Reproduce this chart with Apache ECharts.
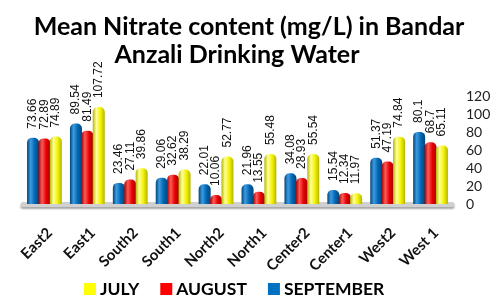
<!DOCTYPE html>
<html>
<head>
<meta charset="utf-8">
<script src="https://cdn.jsdelivr.net/npm/echarts@6/dist/echarts.min.js"></script>
<style>
  html, body { margin: 0; padding: 0; background: #fff; }
  #chart { width: 500px; height: 308px; }
</style>
</head>
<body>
<div id="chart"></div>
<script>
// Sampling sites (x axis)
const sites = ["East2", "East1", "South2", "South1", "North2", "North1", "Center2", "Center1", "West2", "West 1"];

// Mean nitrate (mg/L) per month
const september = [73.66, 89.54, 23.46, 29.06, 22.01, 21.96, 34.08, 15.54, 51.37, 80.1];
const august    = [72.89, 81.49, 27.11, 32.62, 10.06, 13.55, 28.93, 12.34, 47.19, 68.7];
const july      = [74.89, 107.72, 39.86, 38.29, 52.77, 55.48, 55.54, 11.97, 74.84, 65.11];

const yTicks = [0, 20, 40, 60, 80, 100, 120];

// cylinder look: dark edges, light stripe near the left
function cylinder(dark, mid, light) {
    return new echarts.graphic.LinearGradient(0, 0, 1, 0, [
        { offset: 0, color: dark },
        { offset: 0.3, color: light },
        { offset: 0.65, color: mid },
        { offset: 1, color: dark }
    ]);
}

const labelOpt = {
    show: true,
    position: 'top',
    distance: 9,
    rotate: 90,
    align: 'left',
    verticalAlign: 'middle',
    fontFamily: 'Liberation Sans',
    fontSize: 12,
    color: '#111'
};

function makeSeries(name, data, fill) {
    return {
        name: name,
        type: 'bar',
        data: data,
        barWidth: 12,
        barGap: '-5%',
        itemStyle: { color: fill, borderRadius: [5, 5, 0, 0] },
        label: labelOpt
    };
}

const titleStyle = { fontFamily: 'Lato', fontWeight: 'bold', fontSize: 25, color: '#000' };

var dom = document.getElementById('chart');
var myChart = echarts.init(dom, null, { renderer: 'canvas' });

var option = {
    animation: false,
    title: [
        { text: 'Mean Nitrate content (mg/L) in Bandar', left: 244, top: 9, textAlign: 'center', textStyle: titleStyle },
        { text: 'Anzali Drinking Water', left: 232, top: 37, textAlign: 'center', textStyle: titleStyle }
    ],
    legend: {
        data: [
            { name: 'JULY', itemStyle: { color: '#FFFF00' } },
            { name: 'AUGUST', itemStyle: { color: '#FF0000' } },
            { name: 'SEPTEMBER', itemStyle: { color: '#0070C0' } }
        ],
        bottom: 5,
        left: 79,
        itemWidth: 12,
        itemHeight: 12,
        itemGap: 21,
        icon: 'rect',
        textStyle: { fontFamily: 'Lato', fontWeight: 'bold', fontSize: 17.5, color: '#000', padding: [0, 0, 0, -1] }
    },
    grid: { left: 23, right: 48, top: 96, bottom: 104 },
    xAxis: {
        type: 'category',
        data: sites,
        axisTick: { show: false },
        axisLine: {
            lineStyle: { color: '#d0d0d0', width: 5, shadowColor: 'rgba(0,0,0,0.35)', shadowBlur: 2, shadowOffsetY: 2 }
        },
        axisLabel: {
            rotate: 45,
            margin: 21,
            interval: 0,
            align: 'right',
            verticalAlign: 'top',
            fontFamily: 'Lato',
            fontWeight: 'bold',
            fontSize: 15,
            color: '#111'
        }
    },
    yAxis: {
        type: 'value',
        position: 'right',
        min: yTicks[0],
        max: yTicks[yTicks.length - 1],
        interval: 20,
        splitLine: { show: false },
        axisLine: { show: false },
        axisTick: { show: false },
        axisLabel: { margin: 14, fontFamily: 'Lato', fontSize: 14, color: '#222' }
    },
    series: [
        makeSeries('SEPTEMBER', september, cylinder('#00457a', '#0066b3', '#3d9be0')),
        makeSeries('AUGUST', august, cylinder('#a00000', '#e60000', '#ff5a5a')),
        makeSeries('JULY', july, cylinder('#b5b500', '#f2f200', '#ffff9a'))
    ],
    color: ['#0070C0', '#FF0000', '#FFFF00']
};

myChart.setOption(option);
window.addEventListener('resize', myChart.resize);
</script>
</body>
</html>
